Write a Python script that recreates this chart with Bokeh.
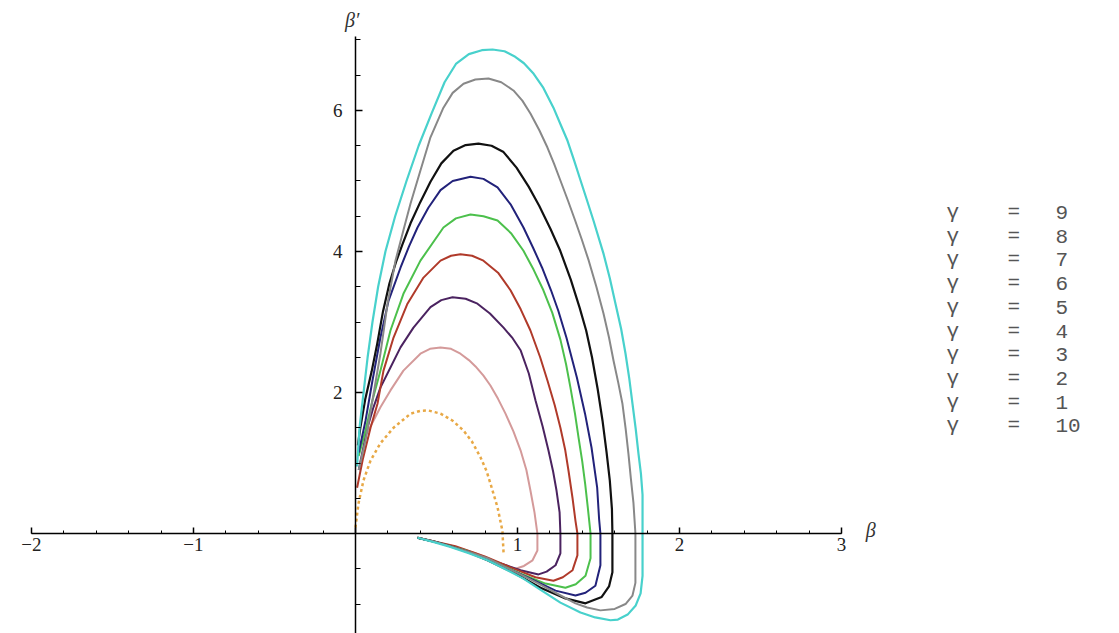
from bokeh.plotting import figure
from bokeh.models import FixedTicker, Label, Range1d
from bokeh.embed import file_html
from bokeh.resources import INLINE

# Phase-plane trajectories (beta, beta') for several gamma values
cyan_x = [0.01, 0.025, 0.05, 0.075, 0.105, 0.14, 0.185, 0.245, 0.315, 0.39, 0.47, 0.55, 0.62, 0.70, 0.78, 0.846,
          0.92, 0.98, 1.04, 1.10, 1.16, 1.222, 1.27, 1.309, 1.35, 1.389, 1.43, 1.469, 1.531, 1.57, 1.605, 1.64,
          1.667, 1.69, 1.71, 1.73, 1.747, 1.762, 1.772, 1.772, 1.772, 1.76, 1.73, 1.68, 1.62, 1.574, 1.48, 1.389,
          1.265, 1.15, 1.037, 0.92, 0.815, 0.70, 0.586, 0.48, 0.383]
cyan_y = [0.95, 1.5, 2.0, 2.5, 3.0, 3.5, 4.0, 4.5, 5.0, 5.5, 5.96, 6.40, 6.66, 6.80, 6.855, 6.865,
          6.84, 6.77, 6.67, 6.52, 6.32, 6.04, 5.78, 5.57, 5.29, 5.01, 4.72, 4.44, 3.97, 3.62, 3.26, 2.90,
          2.55, 2.20, 1.84, 1.48, 1.13, 0.85, 0.55, 0.0, -0.60, -0.85, -1.02, -1.15, -1.22, -1.23, -1.19, -1.12,
          -0.98, -0.81, -0.64, -0.50, -0.38, -0.28, -0.19, -0.12, -0.06]

grey_x = [0.02, 0.062, 0.105, 0.154, 0.198, 0.247, 0.296, 0.34, 0.401, 0.463, 0.543, 0.60, 0.667, 0.74, 0.821,
          0.90, 0.975, 1.03, 1.08, 1.135, 1.185, 1.225, 1.265, 1.312, 1.356, 1.397, 1.44, 1.487, 1.531, 1.565,
          1.593, 1.622, 1.648, 1.668, 1.685, 1.70, 1.716, 1.728, 1.728, 1.71, 1.667, 1.60, 1.512, 1.43, 1.358,
          1.235, 1.13, 1.037, 0.92, 0.815, 0.70, 0.586, 0.48, 0.383]
grey_y = [0.9, 1.32, 1.89, 2.55, 3.26, 3.87, 4.30, 4.68, 5.15, 5.62, 6.04, 6.25, 6.38, 6.44, 6.454,
          6.40, 6.284, 6.14, 5.957, 5.72, 5.475, 5.25, 5.007, 4.72, 4.44, 4.17, 3.87, 3.50, 3.12, 2.78,
          2.45, 2.14, 1.84, 1.48, 1.13, 0.78, 0.43, 0.0, -0.70, -0.88, -1.0, -1.07, -1.09, -1.05, -0.99,
          -0.84, -0.71, -0.60, -0.47, -0.35, -0.26, -0.18, -0.11, -0.06]

black_x = [0.015, 0.03, 0.06, 0.10, 0.135, 0.17, 0.21, 0.25, 0.29, 0.34, 0.40, 0.463, 0.53, 0.605, 0.68, 0.759,
           0.84, 0.914, 0.994, 1.069, 1.134, 1.204, 1.264, 1.329, 1.384, 1.424, 1.46, 1.495, 1.525, 1.55, 1.57,
           1.583, 1.586, 1.586, 1.565, 1.52, 1.42, 1.296, 1.142, 0.988, 0.815, 0.70, 0.586, 0.48, 0.383]
black_y = [1.25, 1.5, 1.9, 2.3, 2.7, 3.15, 3.55, 3.85, 4.10, 4.40, 4.70, 4.99, 5.25, 5.43, 5.51, 5.53,
           5.50, 5.41, 5.19, 4.92, 4.65, 4.32, 4.01, 3.60, 3.20, 2.88, 2.50, 2.05, 1.60, 1.15, 0.75,
           0.35, 0.0, -0.55, -0.75, -0.90, -0.99, -0.92, -0.77, -0.57, -0.38, -0.27, -0.18, -0.11, -0.06]

blue_x = [0.02, 0.062, 0.105, 0.154, 0.204, 0.278, 0.33, 0.383, 0.45, 0.525, 0.60, 0.71, 0.79, 0.877, 0.96,
          1.037, 1.097, 1.152, 1.207, 1.252, 1.302, 1.367, 1.417, 1.457, 1.492, 1.504, 1.512, 1.512, 1.481, 1.42,
          1.358, 1.235, 1.08, 0.895, 0.71, 0.525, 0.383]
blue_y = [1.15, 1.60, 2.17, 2.78, 3.30, 3.77, 4.07, 4.34, 4.62, 4.87, 5.00, 5.06, 5.03, 4.91, 4.66,
          4.34, 4.05, 3.77, 3.45, 3.16, 2.78, 2.21, 1.70, 1.22, 0.65, 0.2, 0.0, -0.45, -0.74, -0.84,
          -0.88, -0.81, -0.64, -0.45, -0.27, -0.14, -0.06]

green_x = [0.02, 0.062, 0.105, 0.154, 0.216, 0.296, 0.401, 0.543, 0.62, 0.71, 0.79, 0.877, 0.96, 1.037, 1.10,
           1.16, 1.215, 1.265, 1.30, 1.327, 1.355, 1.377, 1.40, 1.418, 1.435, 1.451, 1.451, 1.42, 1.36, 1.296,
           1.173, 1.019, 0.864, 0.679, 0.525, 0.383]
green_y = [1.1, 1.46, 1.89, 2.31, 2.88, 3.40, 3.87, 4.34, 4.47, 4.525, 4.50, 4.44, 4.26, 4.01, 3.74,
           3.45, 3.13, 2.75, 2.40, 2.07, 1.70, 1.36, 1.02, 0.70, 0.35, 0.0, -0.35, -0.60, -0.72, -0.77,
           -0.71, -0.57, -0.41, -0.24, -0.14, -0.06]

red_x = [0.01, 0.045, 0.093, 0.136, 0.173, 0.235, 0.321, 0.42, 0.525, 0.59, 0.648, 0.72, 0.79, 0.88, 0.957,
         1.02, 1.08, 1.14, 1.185, 1.23, 1.265, 1.295, 1.315, 1.34, 1.358, 1.37, 1.37, 1.34, 1.28, 1.222,
         1.111, 0.957, 0.802, 0.617, 0.383]
red_y = [0.65, 1.05, 1.50, 1.84, 2.31, 2.78, 3.26, 3.63, 3.87, 3.94, 3.96, 3.94, 3.87, 3.70, 3.45,
         3.18, 2.88, 2.50, 2.17, 1.82, 1.50, 1.18, 0.89, 0.50, 0.18, 0.0, -0.31, -0.52, -0.62, -0.67,
         -0.62, -0.48, -0.33, -0.18, -0.06]

purple_x = [0.02, 0.074, 0.111, 0.154, 0.216, 0.278, 0.358, 0.463, 0.53, 0.599, 0.68, 0.753, 0.83, 0.914, 0.97,
            1.019, 1.07, 1.111, 1.155, 1.191, 1.22, 1.241, 1.26, 1.265, 1.265, 1.235, 1.18, 1.13, 1.019,
            0.864, 0.679, 0.525, 0.383]
purple_y = [0.9, 1.50, 1.79, 2.07, 2.355, 2.64, 2.92, 3.21, 3.31, 3.35, 3.33, 3.26, 3.12, 2.92, 2.77,
            2.60, 2.27, 1.89, 1.52, 1.18, 0.88, 0.61, 0.30, 0.0, -0.28, -0.45, -0.54, -0.58, -0.52,
            -0.40, -0.24, -0.14, -0.06]

pink_x = [0.03, 0.111, 0.154, 0.216, 0.296, 0.401, 0.46, 0.525, 0.59, 0.648, 0.70, 0.741, 0.79, 0.833, 0.88,
          0.926, 0.975, 1.019, 1.055, 1.08, 1.105, 1.123, 1.123, 1.093, 1.04, 0.988, 0.877, 0.741, 0.586, 0.383]
pink_y = [1.25, 1.60, 1.79, 2.03, 2.31, 2.55, 2.62, 2.64, 2.62, 2.55, 2.46, 2.37, 2.24, 2.10, 1.91,
          1.70, 1.45, 1.18, 0.90, 0.61, 0.30, 0.0, -0.24, -0.38, -0.46, -0.50, -0.41, -0.28, -0.17, -0.06]

orange_x = [0.0, 0.019, 0.049, 0.093, 0.154, 0.235, 0.34, 0.40, 0.451, 0.525, 0.60, 0.667, 0.72, 0.772, 0.81,
            0.833, 0.877, 0.907, 0.914]
orange_y = [0.085, 0.43, 0.75, 1.035, 1.28, 1.50, 1.70, 1.74, 1.745, 1.70, 1.60, 1.46, 1.30, 1.08, 0.88,
            0.71, 0.37, 0.04, -0.27]

legend_gamma = ["9", "8", "7", "6", "5", "4", "3", "2", "1", "10"]

x_major = [-2, -1, 0, 1, 2, 3]
y_major = [2, 4, 6]

p = figure(width=1119, height=633, output_backend="svg", toolbar_location=None,
           x_range=Range1d(-2.191, 4.716), y_range=Range1d(-1.418, 7.560),
           min_border=0, background_fill_color="white", border_fill_color="white")
p.outline_line_color = None
p.grid.visible = False

serif = "Liberation Serif"

xa = p.xaxis[0]
xa.fixed_location = 0
xa.bounds = (-2, 3)
xa.ticker = FixedTicker(ticks=x_major,
                        minor_ticks=[round(-2 + 0.2 * i, 2) for i in range(26)])
xa.major_label_overrides = {-2: "\u22122", -1: "\u22121", 0: ""}
xa.axis_line_width = 1.5
xa.axis_line_color = "black"
xa.major_tick_in = 6
xa.major_tick_out = 0
xa.minor_tick_in = 3
xa.minor_tick_out = 0
xa.major_tick_line_width = 1.5
xa.major_label_standoff = 4
xa.major_label_text_font = serif
xa.major_label_text_font_size = "19px"
xa.major_label_text_color = "#222222"

ya = p.yaxis[0]
ya.fixed_location = 0
ya.bounds = (-1.418, 7.05)
ya.ticker = FixedTicker(ticks=y_major,
                        minor_ticks=[round(-1.0 + 0.5 * i, 2) for i in range(17)])
ya.axis_line_width = 1.5
ya.axis_line_color = "black"
ya.major_tick_in = 7
ya.major_tick_out = 0
ya.minor_tick_in = 5
ya.minor_tick_out = 0
ya.major_tick_line_width = 1.5
ya.major_label_standoff = 13
ya.major_label_text_font = serif
ya.major_label_text_font_size = "19px"
ya.major_label_text_color = "#222222"

series = [
    (orange_x, orange_y, "#e8a845", "3 3", 2.5),
    (pink_x, pink_y, "#d49a9a", "solid", 2.0),
    (purple_x, purple_y, "#4b2360", "solid", 2.0),
    (red_x, red_y, "#b03a2a", "solid", 2.0),
    (green_x, green_y, "#4cc04c", "solid", 2.0),
    (blue_x, blue_y, "#22227a", "solid", 2.0),
    (black_x, black_y, "#111111", "solid", 2.2),
    (grey_x, grey_y, "#888888", "solid", 2.0),
    (cyan_x, cyan_y, "#48d1cc", "solid", 2.2),
]
for xs, ys, col, dash, w in series:
    p.line(xs, ys, line_color=col, line_width=w, line_dash=dash, line_join="round")

# axis names at the ends of the axes
p.add_layout(Label(x=3.18, y=0.05, text="\u03b2", text_font=serif, text_font_style="italic",
                   text_font_size="20px", text_align="center", text_baseline="middle",
                   text_color="#333333"))
p.add_layout(Label(x=-0.02, y=7.28, text="\u03b2\u2032", text_font=serif, text_font_style="italic",
                   text_font_size="20px", text_align="center", text_baseline="middle",
                   text_color="#333333"))

# text-only legend on the right
row0 = 633 - 212
step = 23.7
for i, g in enumerate(legend_gamma):
    yy = row0 - i * step
    for xx, t in ((946, "\u03b3"), (1007, "="), (1055, g)):
        p.add_layout(Label(x=xx, y=yy, x_units="screen", y_units="screen", text=t,
                           text_font="Liberation Mono", text_font_size="21px",
                           text_baseline="middle", text_color="#555555"))

open("out.html", "w").write(file_html(p, INLINE))
